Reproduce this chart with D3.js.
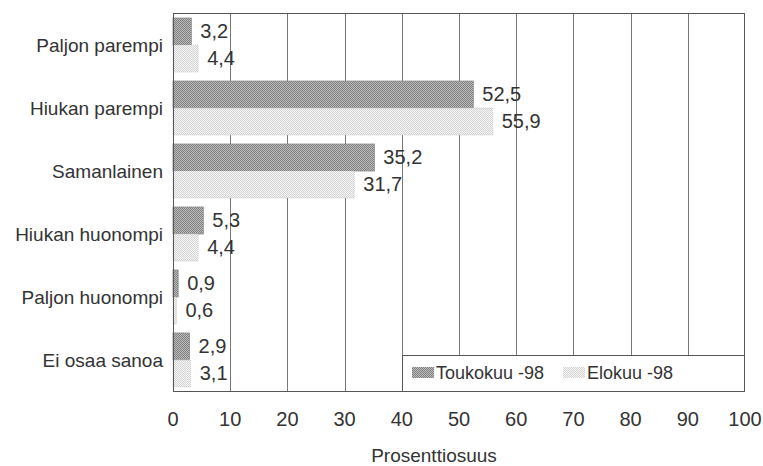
<!DOCTYPE html>
<html>
<head>
<meta charset="utf-8">
<script src="https://cdn.jsdelivr.net/npm/d3@7/dist/d3.min.js"></script>
<style>
  html, body { margin: 0; padding: 0; background: #fff; }
  svg { display: block; }
</style>
</head>
<body>
<svg id="chart" width="763" height="466"></svg>
<script>
const categories = ["Paljon parempi", "Hiukan parempi", "Samanlainen", "Hiukan huonompi", "Paljon huonompi", "Ei osaa sanoa"];
const seriesNames = ["Toukokuu -98", "Elokuu -98"];
const toukokuu = [3.2, 52.5, 35.2, 5.3, 0.9, 2.9];
const elokuu = [4.4, 55.9, 31.7, 4.4, 0.6, 3.1];
const xTicks = [0, 10, 20, 30, 40, 50, 60, 70, 80, 90, 100];
const xTitle = "Prosenttiosuus";

const series = [toukokuu, elokuu];
const svg = d3.select("#chart");
const M = { left: 173, right: 745, top: 13, bottom: 392 };
const textColor = "#333";
const letterFont = "'Liberation Sans', Arial, sans-serif";
const numFont = "'Liberation Sans Narrow', 'Arial Narrow', 'Liberation Sans', sans-serif";

// patterns
const defs = svg.append("defs");
function pat(id, bg, dot) {
  const p = defs.append("pattern").attr("id", id).attr("width", 2).attr("height", 2)
    .attr("patternUnits", "userSpaceOnUse");
  p.append("rect").attr("width", 2).attr("height", 2).attr("fill", bg);
  p.append("rect").attr("x", 0).attr("y", 0).attr("width", 1).attr("height", 1).attr("fill", dot);
  p.append("rect").attr("x", 1).attr("y", 1).attr("width", 1).attr("height", 1).attr("fill", dot);
}
pat("pDark", "#bdbdbd", "#7e7e7e");
pat("pLight", "#f6f6f6", "#d4d4d4");
const fills = ["url(#pDark)", "url(#pLight)"];
const strokes = ["#8a8a8a", "#c4c4c4"];

const x = d3.scaleLinear().domain([0, 100]).range([M.left, M.right]);
const y = d3.scaleBand().domain(categories).range([M.top, M.bottom]).paddingInner(0.143).paddingOuter(0.08);
const ySub = d3.scaleBand().domain(seriesNames).range([0, y.bandwidth()]);

// grid lines
svg.append("g").selectAll("line").data(xTicks.slice(1, -1)).join("line")
  .attr("x1", d => Math.round(x(d)) + 0.5).attr("x2", d => Math.round(x(d)) + 0.5)
  .attr("y1", M.top).attr("y2", M.bottom)
  .attr("stroke", "#777").attr("stroke-width", 1);

// bars
categories.forEach((c, i) => {
  seriesNames.forEach((s, j) => {
    const v = series[j][i];
    const yy = y(c) + ySub(s);
    svg.append("rect")
      .attr("x", x(0)).attr("y", yy)
      .attr("width", x(v) - x(0)).attr("height", ySub.bandwidth())
      .attr("fill", fills[j])
      .attr("stroke", strokes[j]).attr("stroke-width", 0.8)
      .attr("stroke-dasharray", j === 1 ? "1,1" : null);
    svg.append("text")
      .attr("x", x(v) + 9).attr("y", yy + ySub.bandwidth() / 2 + 1)
      .attr("dominant-baseline", "middle")
      .attr("font-family", numFont).attr("font-size", 20)
      .attr("fill", textColor)
      .text(String(v.toFixed(1)).replace(".", ","));
  });
});

// plot border
svg.append("rect").attr("x", M.left + 0.5).attr("y", M.top + 0.5)
  .attr("width", M.right - M.left - 1).attr("height", M.bottom - M.top - 1)
  .attr("fill", "none").attr("stroke", "#555").attr("stroke-width", 1);

// category labels
svg.append("g").selectAll("text").data(categories).join("text")
  .attr("x", 163).attr("y", d => y(d) + y.bandwidth() / 2 + 2)
  .attr("text-anchor", "end").attr("dominant-baseline", "middle")
  .attr("font-family", letterFont).attr("font-size", 19)
  .attr("fill", textColor).text(d => d);

// x tick labels
svg.append("g").selectAll("text").data(xTicks).join("text")
  .attr("x", d => x(d)).attr("y", 426)
  .attr("text-anchor", "middle")
  .attr("font-family", numFont).attr("font-size", 20)
  .attr("fill", textColor).text(d => d);

// x title
svg.append("text").attr("x", (M.left + M.right) / 2 - 25).attr("y", 462)
  .attr("text-anchor", "middle")
  .attr("font-family", letterFont).attr("font-size", 19)
  .attr("fill", textColor).text(xTitle);

// legend
const lg = svg.append("g");
lg.append("rect").attr("x", 402.5).attr("y", 355.5).attr("width", M.right - 402.5 - 0.5).attr("height", M.bottom - 355.5 - 0.5)
  .attr("fill", "#fff").attr("stroke", "#555").attr("stroke-width", 1);
const legX = [412, 563];
seriesNames.forEach((s, j) => {
  lg.append("rect").attr("x", legX[j]).attr("y", 367).attr("width", 22).attr("height", 11)
    .attr("fill", fills[j]);
  lg.append("text").attr("x", legX[j] + 24).attr("y", 379)
    .attr("font-family", letterFont).attr("font-size", 18)
    .attr("fill", textColor).text(s);
});
</script>
</body>
</html>
